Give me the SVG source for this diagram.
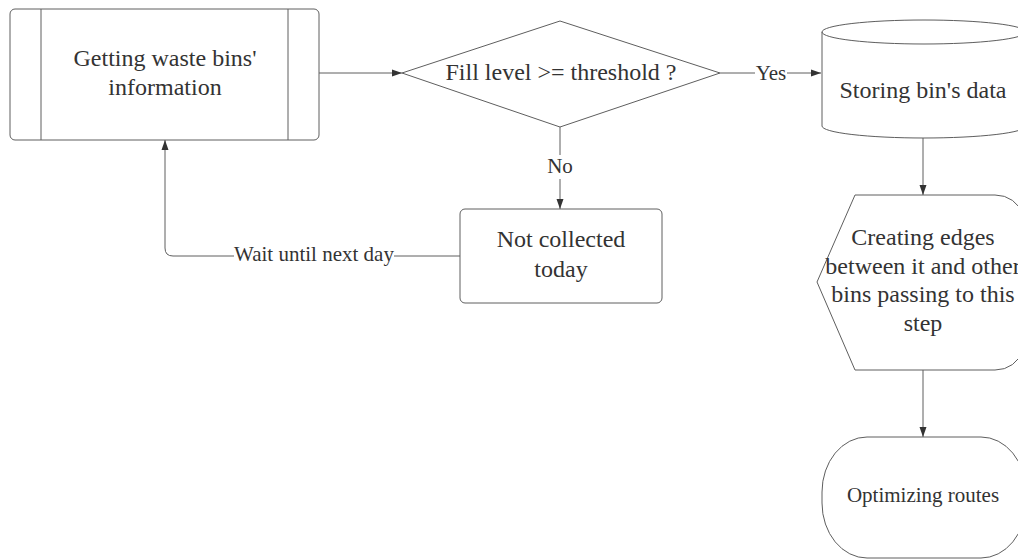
<svg xmlns="http://www.w3.org/2000/svg" width="1018" height="559" viewBox="0 0 1018 559">
<defs>
<style>
.shape{fill:#fff;stroke:#5e5e5e;stroke-width:1}
.edge{fill:none;stroke:#5e5e5e;stroke-width:1}
text{font-family:'Liberation Serif','DejaVu Serif',serif;fill:#333;text-anchor:middle}
.big{font-size:24px}
.small{font-size:21px}
.lbl{fill:#fff;stroke:none}
</style>
<marker id="arr" viewBox="0 0 10 10" refX="10" refY="5" markerWidth="10" markerHeight="10" markerUnits="userSpaceOnUse" orient="auto">
<path d="M0,1.5 L10,5 L0,8.5 z" fill="#333"/>
</marker>
</defs>
<rect width="1018" height="559" fill="#fff"/>
<g id="connectors">
<path class="edge" d="M319,73 L402,73" marker-end="url(#arr)"/>
<path class="edge" d="M720,73 L821,73" marker-end="url(#arr)"/>
<rect class="lbl" x="755" y="62" width="32" height="22"/>
<text class="small" x="771" y="80">Yes</text>
<path class="edge" d="M560,127 L560,209" marker-end="url(#arr)"/>
<rect class="lbl" x="545" y="155" width="30" height="24"/>
<text class="small" x="560" y="173">No</text>
<path class="edge" d="M460,256 L173,256 Q165,256 165,248 L165,140" marker-end="url(#arr)"/>
<rect class="lbl" x="234" y="244" width="160" height="22"/>
<text class="small" x="314" y="261">Wait until next day</text>
<path class="edge" d="M923,138 L923,195" marker-end="url(#arr)"/>
<path class="edge" d="M923,370 L923,437" marker-end="url(#arr)"/>
</g>
<g id="node-getting">
<rect class="shape" x="10" y="9" width="309" height="131" rx="5"/>
<line class="edge" x1="41" y1="9" x2="41" y2="140"/>
<line class="edge" x1="288" y1="9" x2="288" y2="140"/>
<text class="big" x="165" y="66">Getting waste bins'</text>
<text class="big" x="165" y="95">information</text>
</g>
<g id="node-decision">
<path class="shape" d="M402,73 L560,21 L720,73 L560,127 Z"/>
<text class="big" x="561" y="80">Fill level &gt;= threshold ?</text>
</g>
<g id="node-storing">
<path class="shape" d="M822,32 A102,12 0 0 1 1026,32 L1026,126 A102,12 0 0 1 822,126 Z"/>
<path class="edge" d="M822,32 A102,12 0 0 0 1026,32"/>
<text class="big" x="923" y="98">Storing bin's data</text>
</g>
<g id="node-creating">
<path class="shape" d="M817,282 L855,195 L995,195 Q1035,195 1035,282 Q1035,370 995,370 L855,370 Z"/>
<text class="big" x="923" y="245">Creating edges</text>
<text class="big" x="923" y="274">between it and other</text>
<text class="big" x="923" y="302">bins passing to this</text>
<text class="big" x="923" y="331">step</text>
</g>
<g id="node-notcollected">
<rect class="shape" x="460" y="209" width="202" height="94" rx="5"/>
<text class="big" x="561" y="247">Not collected</text>
<text class="big" x="561" y="277">today</text>
</g>
<g id="node-optimizing">
<rect class="shape" x="822" y="437" width="204" height="121" rx="45" ry="55"/>
<text class="small" x="923" y="502">Optimizing routes</text>
</g>
</svg>
